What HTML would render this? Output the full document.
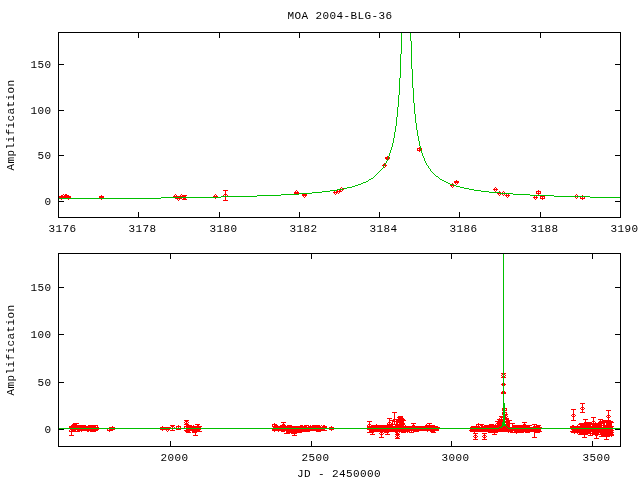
<!DOCTYPE html>
<html><head><meta charset="utf-8"><title>MOA 2004-BLG-36</title>
<style>html,body{margin:0;padding:0;background:#fff;overflow:hidden}svg{display:block}.t{font-family:"Liberation Mono",monospace;font-size:11px;letter-spacing:0.4px;fill:#000}</style></head>
<body>
<svg width="640" height="480" viewBox="0 0 640 480" shape-rendering="crispEdges">
<rect width="640" height="480" fill="#fff"/>
<path fill="#000000" d="M58 32h563v1h-563zM58 33h1v1h-1zM138 33h1v1h-1zM219 33h1v1h-1zM299 33h1v1h-1zM379 33h1v1h-1zM459 33h1v1h-1zM540 33h1v1h-1zM620 33h1v1h-1zM58 34h1v1h-1zM138 34h1v1h-1zM219 34h1v1h-1zM299 34h1v1h-1zM379 34h1v1h-1zM459 34h1v1h-1zM540 34h1v1h-1zM620 34h1v1h-1zM58 35h1v1h-1zM138 35h1v1h-1zM219 35h1v1h-1zM299 35h1v1h-1zM379 35h1v1h-1zM459 35h1v1h-1zM540 35h1v1h-1zM620 35h1v1h-1zM58 36h1v1h-1zM138 36h1v1h-1zM219 36h1v1h-1zM299 36h1v1h-1zM379 36h1v1h-1zM459 36h1v1h-1zM540 36h1v1h-1zM620 36h1v1h-1zM58 37h1v1h-1zM138 37h1v1h-1zM219 37h1v1h-1zM299 37h1v1h-1zM379 37h1v1h-1zM459 37h1v1h-1zM540 37h1v1h-1zM620 37h1v1h-1zM58 38h1v1h-1zM620 38h1v1h-1zM58 39h1v1h-1zM620 39h1v1h-1zM58 40h1v1h-1zM620 40h1v1h-1zM58 41h1v1h-1zM620 41h1v1h-1zM58 42h1v1h-1zM620 42h1v1h-1zM58 43h1v1h-1zM620 43h1v1h-1zM58 44h1v1h-1zM620 44h1v1h-1zM58 45h1v1h-1zM620 45h1v1h-1zM58 46h1v1h-1zM620 46h1v1h-1zM58 47h1v1h-1zM620 47h1v1h-1zM58 48h1v1h-1zM620 48h1v1h-1zM58 49h1v1h-1zM620 49h1v1h-1zM58 50h1v1h-1zM620 50h1v1h-1zM58 51h1v1h-1zM620 51h1v1h-1zM58 52h1v1h-1zM620 52h1v1h-1zM58 53h1v1h-1zM620 53h1v1h-1zM58 54h1v1h-1zM620 54h1v1h-1zM58 55h1v1h-1zM620 55h1v1h-1zM58 56h1v1h-1zM620 56h1v1h-1zM58 57h1v1h-1zM620 57h1v1h-1zM58 58h1v1h-1zM620 58h1v1h-1zM58 59h1v1h-1zM620 59h1v1h-1zM58 60h1v1h-1zM620 60h1v1h-1zM58 61h1v1h-1zM620 61h1v1h-1zM58 62h1v1h-1zM620 62h1v1h-1zM58 63h1v1h-1zM620 63h1v1h-1zM58 64h6v1h-6zM615 64h6v1h-6zM58 65h1v1h-1zM620 65h1v1h-1zM58 66h1v1h-1zM620 66h1v1h-1zM58 67h1v1h-1zM620 67h1v1h-1zM58 68h1v1h-1zM620 68h1v1h-1zM58 69h1v1h-1zM620 69h1v1h-1zM58 70h1v1h-1zM620 70h1v1h-1zM58 71h1v1h-1zM620 71h1v1h-1zM58 72h1v1h-1zM620 72h1v1h-1zM58 73h1v1h-1zM620 73h1v1h-1zM58 74h1v1h-1zM620 74h1v1h-1zM58 75h1v1h-1zM620 75h1v1h-1zM58 76h1v1h-1zM620 76h1v1h-1zM58 77h1v1h-1zM620 77h1v1h-1zM58 78h1v1h-1zM620 78h1v1h-1zM58 79h1v1h-1zM620 79h1v1h-1zM58 80h1v1h-1zM620 80h1v1h-1zM58 81h1v1h-1zM620 81h1v1h-1zM58 82h1v1h-1zM620 82h1v1h-1zM58 83h1v1h-1zM620 83h1v1h-1zM58 84h1v1h-1zM620 84h1v1h-1zM58 85h1v1h-1zM620 85h1v1h-1zM58 86h1v1h-1zM620 86h1v1h-1zM58 87h1v1h-1zM620 87h1v1h-1zM58 88h1v1h-1zM620 88h1v1h-1zM58 89h1v1h-1zM620 89h1v1h-1zM58 90h1v1h-1zM620 90h1v1h-1zM58 91h1v1h-1zM620 91h1v1h-1zM58 92h1v1h-1zM620 92h1v1h-1zM58 93h1v1h-1zM620 93h1v1h-1zM58 94h1v1h-1zM620 94h1v1h-1zM58 95h1v1h-1zM620 95h1v1h-1zM58 96h1v1h-1zM620 96h1v1h-1zM58 97h1v1h-1zM620 97h1v1h-1zM58 98h1v1h-1zM620 98h1v1h-1zM58 99h1v1h-1zM620 99h1v1h-1zM58 100h1v1h-1zM620 100h1v1h-1zM58 101h1v1h-1zM620 101h1v1h-1zM58 102h1v1h-1zM620 102h1v1h-1zM58 103h1v1h-1zM620 103h1v1h-1zM58 104h1v1h-1zM620 104h1v1h-1zM58 105h1v1h-1zM620 105h1v1h-1zM58 106h1v1h-1zM620 106h1v1h-1zM58 107h1v1h-1zM620 107h1v1h-1zM58 108h1v1h-1zM620 108h1v1h-1zM58 109h1v1h-1zM620 109h1v1h-1zM58 110h6v1h-6zM615 110h6v1h-6zM58 111h1v1h-1zM620 111h1v1h-1zM58 112h1v1h-1zM620 112h1v1h-1zM58 113h1v1h-1zM620 113h1v1h-1zM58 114h1v1h-1zM620 114h1v1h-1zM58 115h1v1h-1zM620 115h1v1h-1zM58 116h1v1h-1zM620 116h1v1h-1zM58 117h1v1h-1zM620 117h1v1h-1zM58 118h1v1h-1zM620 118h1v1h-1zM58 119h1v1h-1zM620 119h1v1h-1zM58 120h1v1h-1zM620 120h1v1h-1zM58 121h1v1h-1zM620 121h1v1h-1zM58 122h1v1h-1zM620 122h1v1h-1zM58 123h1v1h-1zM620 123h1v1h-1zM58 124h1v1h-1zM620 124h1v1h-1zM58 125h1v1h-1zM620 125h1v1h-1zM58 126h1v1h-1zM620 126h1v1h-1zM58 127h1v1h-1zM620 127h1v1h-1zM58 128h1v1h-1zM620 128h1v1h-1zM58 129h1v1h-1zM620 129h1v1h-1zM58 130h1v1h-1zM620 130h1v1h-1zM58 131h1v1h-1zM620 131h1v1h-1zM58 132h1v1h-1zM620 132h1v1h-1zM58 133h1v1h-1zM620 133h1v1h-1zM58 134h1v1h-1zM620 134h1v1h-1zM58 135h1v1h-1zM620 135h1v1h-1zM58 136h1v1h-1zM620 136h1v1h-1zM58 137h1v1h-1zM620 137h1v1h-1zM58 138h1v1h-1zM620 138h1v1h-1zM58 139h1v1h-1zM620 139h1v1h-1zM58 140h1v1h-1zM620 140h1v1h-1zM58 141h1v1h-1zM620 141h1v1h-1zM58 142h1v1h-1zM620 142h1v1h-1zM58 143h1v1h-1zM620 143h1v1h-1zM58 144h1v1h-1zM620 144h1v1h-1zM58 145h1v1h-1zM620 145h1v1h-1zM58 146h1v1h-1zM620 146h1v1h-1zM58 147h1v1h-1zM620 147h1v1h-1zM58 148h1v1h-1zM620 148h1v1h-1zM58 149h1v1h-1zM620 149h1v1h-1zM58 150h1v1h-1zM620 150h1v1h-1zM58 151h1v1h-1zM620 151h1v1h-1zM58 152h1v1h-1zM620 152h1v1h-1zM58 153h1v1h-1zM620 153h1v1h-1zM58 154h1v1h-1zM620 154h1v1h-1zM58 155h6v1h-6zM615 155h6v1h-6zM58 156h1v1h-1zM620 156h1v1h-1zM58 157h1v1h-1zM620 157h1v1h-1zM58 158h1v1h-1zM620 158h1v1h-1zM58 159h1v1h-1zM620 159h1v1h-1zM58 160h1v1h-1zM620 160h1v1h-1zM58 161h1v1h-1zM620 161h1v1h-1zM58 162h1v1h-1zM620 162h1v1h-1zM58 163h1v1h-1zM620 163h1v1h-1zM58 164h1v1h-1zM620 164h1v1h-1zM58 165h1v1h-1zM620 165h1v1h-1zM58 166h1v1h-1zM620 166h1v1h-1zM58 167h1v1h-1zM620 167h1v1h-1zM58 168h1v1h-1zM620 168h1v1h-1zM58 169h1v1h-1zM620 169h1v1h-1zM58 170h1v1h-1zM620 170h1v1h-1zM58 171h1v1h-1zM620 171h1v1h-1zM58 172h1v1h-1zM620 172h1v1h-1zM58 173h1v1h-1zM620 173h1v1h-1zM58 174h1v1h-1zM620 174h1v1h-1zM58 175h1v1h-1zM620 175h1v1h-1zM58 176h1v1h-1zM620 176h1v1h-1zM58 177h1v1h-1zM620 177h1v1h-1zM58 178h1v1h-1zM620 178h1v1h-1zM58 179h1v1h-1zM620 179h1v1h-1zM58 180h1v1h-1zM620 180h1v1h-1zM58 181h1v1h-1zM620 181h1v1h-1zM58 182h1v1h-1zM620 182h1v1h-1zM58 183h1v1h-1zM620 183h1v1h-1zM58 184h1v1h-1zM620 184h1v1h-1zM58 185h1v1h-1zM620 185h1v1h-1zM58 186h1v1h-1zM620 186h1v1h-1zM58 187h1v1h-1zM620 187h1v1h-1zM58 188h1v1h-1zM620 188h1v1h-1zM58 189h1v1h-1zM620 189h1v1h-1zM58 190h1v1h-1zM620 190h1v1h-1zM58 191h1v1h-1zM620 191h1v1h-1zM58 192h1v1h-1zM620 192h1v1h-1zM58 193h1v1h-1zM620 193h1v1h-1zM58 194h1v1h-1zM620 194h1v1h-1zM58 195h1v1h-1zM620 195h1v1h-1zM58 196h1v1h-1zM620 196h1v1h-1zM58 197h1v1h-1zM620 197h1v1h-1zM58 198h1v1h-1zM620 198h1v1h-1zM58 199h1v1h-1zM620 199h1v1h-1zM58 200h1v1h-1zM620 200h1v1h-1zM58 201h6v1h-6zM615 201h6v1h-6zM58 202h1v1h-1zM620 202h1v1h-1zM58 203h1v1h-1zM620 203h1v1h-1zM58 204h1v1h-1zM620 204h1v1h-1zM58 205h1v1h-1zM620 205h1v1h-1zM58 206h1v1h-1zM620 206h1v1h-1zM58 207h1v1h-1zM620 207h1v1h-1zM58 208h1v1h-1zM620 208h1v1h-1zM58 209h1v1h-1zM620 209h1v1h-1zM58 210h1v1h-1zM620 210h1v1h-1zM58 211h1v1h-1zM620 211h1v1h-1zM58 212h1v1h-1zM138 212h1v1h-1zM219 212h1v1h-1zM299 212h1v1h-1zM379 212h1v1h-1zM459 212h1v1h-1zM540 212h1v1h-1zM620 212h1v1h-1zM58 213h1v1h-1zM138 213h1v1h-1zM219 213h1v1h-1zM299 213h1v1h-1zM379 213h1v1h-1zM459 213h1v1h-1zM540 213h1v1h-1zM620 213h1v1h-1zM58 214h1v1h-1zM138 214h1v1h-1zM219 214h1v1h-1zM299 214h1v1h-1zM379 214h1v1h-1zM459 214h1v1h-1zM540 214h1v1h-1zM620 214h1v1h-1zM58 215h1v1h-1zM138 215h1v1h-1zM219 215h1v1h-1zM299 215h1v1h-1zM379 215h1v1h-1zM459 215h1v1h-1zM540 215h1v1h-1zM620 215h1v1h-1zM58 216h1v1h-1zM138 216h1v1h-1zM219 216h1v1h-1zM299 216h1v1h-1zM379 216h1v1h-1zM459 216h1v1h-1zM540 216h1v1h-1zM620 216h1v1h-1zM58 217h563v1h-563zM58 253h563v1h-563zM58 254h1v1h-1zM170 254h1v1h-1zM311 254h1v1h-1zM451 254h1v1h-1zM592 254h1v1h-1zM620 254h1v1h-1zM58 255h1v1h-1zM170 255h1v1h-1zM311 255h1v1h-1zM451 255h1v1h-1zM592 255h1v1h-1zM620 255h1v1h-1zM58 256h1v1h-1zM170 256h1v1h-1zM311 256h1v1h-1zM451 256h1v1h-1zM592 256h1v1h-1zM620 256h1v1h-1zM58 257h1v1h-1zM170 257h1v1h-1zM311 257h1v1h-1zM451 257h1v1h-1zM592 257h1v1h-1zM620 257h1v1h-1zM58 258h1v1h-1zM170 258h1v1h-1zM311 258h1v1h-1zM451 258h1v1h-1zM592 258h1v1h-1zM620 258h1v1h-1zM58 259h1v1h-1zM620 259h1v1h-1zM58 260h1v1h-1zM620 260h1v1h-1zM58 261h1v1h-1zM620 261h1v1h-1zM58 262h1v1h-1zM620 262h1v1h-1zM58 263h1v1h-1zM620 263h1v1h-1zM58 264h1v1h-1zM620 264h1v1h-1zM58 265h1v1h-1zM620 265h1v1h-1zM58 266h1v1h-1zM620 266h1v1h-1zM58 267h1v1h-1zM620 267h1v1h-1zM58 268h1v1h-1zM620 268h1v1h-1zM58 269h1v1h-1zM620 269h1v1h-1zM58 270h1v1h-1zM620 270h1v1h-1zM58 271h1v1h-1zM620 271h1v1h-1zM58 272h1v1h-1zM620 272h1v1h-1zM58 273h1v1h-1zM620 273h1v1h-1zM58 274h1v1h-1zM620 274h1v1h-1zM58 275h1v1h-1zM620 275h1v1h-1zM58 276h1v1h-1zM620 276h1v1h-1zM58 277h1v1h-1zM620 277h1v1h-1zM58 278h1v1h-1zM620 278h1v1h-1zM58 279h1v1h-1zM620 279h1v1h-1zM58 280h1v1h-1zM620 280h1v1h-1zM58 281h1v1h-1zM620 281h1v1h-1zM58 282h1v1h-1zM620 282h1v1h-1zM58 283h1v1h-1zM620 283h1v1h-1zM58 284h1v1h-1zM620 284h1v1h-1zM58 285h1v1h-1zM620 285h1v1h-1zM58 286h1v1h-1zM620 286h1v1h-1zM58 287h6v1h-6zM615 287h6v1h-6zM58 288h1v1h-1zM620 288h1v1h-1zM58 289h1v1h-1zM620 289h1v1h-1zM58 290h1v1h-1zM620 290h1v1h-1zM58 291h1v1h-1zM620 291h1v1h-1zM58 292h1v1h-1zM620 292h1v1h-1zM58 293h1v1h-1zM620 293h1v1h-1zM58 294h1v1h-1zM620 294h1v1h-1zM58 295h1v1h-1zM620 295h1v1h-1zM58 296h1v1h-1zM620 296h1v1h-1zM58 297h1v1h-1zM620 297h1v1h-1zM58 298h1v1h-1zM620 298h1v1h-1zM58 299h1v1h-1zM620 299h1v1h-1zM58 300h1v1h-1zM620 300h1v1h-1zM58 301h1v1h-1zM620 301h1v1h-1zM58 302h1v1h-1zM620 302h1v1h-1zM58 303h1v1h-1zM620 303h1v1h-1zM58 304h1v1h-1zM620 304h1v1h-1zM58 305h1v1h-1zM620 305h1v1h-1zM58 306h1v1h-1zM620 306h1v1h-1zM58 307h1v1h-1zM620 307h1v1h-1zM58 308h1v1h-1zM620 308h1v1h-1zM58 309h1v1h-1zM620 309h1v1h-1zM58 310h1v1h-1zM620 310h1v1h-1zM58 311h1v1h-1zM620 311h1v1h-1zM58 312h1v1h-1zM620 312h1v1h-1zM58 313h1v1h-1zM620 313h1v1h-1zM58 314h1v1h-1zM620 314h1v1h-1zM58 315h1v1h-1zM620 315h1v1h-1zM58 316h1v1h-1zM620 316h1v1h-1zM58 317h1v1h-1zM620 317h1v1h-1zM58 318h1v1h-1zM620 318h1v1h-1zM58 319h1v1h-1zM620 319h1v1h-1zM58 320h1v1h-1zM620 320h1v1h-1zM58 321h1v1h-1zM620 321h1v1h-1zM58 322h1v1h-1zM620 322h1v1h-1zM58 323h1v1h-1zM620 323h1v1h-1zM58 324h1v1h-1zM620 324h1v1h-1zM58 325h1v1h-1zM620 325h1v1h-1zM58 326h1v1h-1zM620 326h1v1h-1zM58 327h1v1h-1zM620 327h1v1h-1zM58 328h1v1h-1zM620 328h1v1h-1zM58 329h1v1h-1zM620 329h1v1h-1zM58 330h1v1h-1zM620 330h1v1h-1zM58 331h1v1h-1zM620 331h1v1h-1zM58 332h1v1h-1zM620 332h1v1h-1zM58 333h1v1h-1zM620 333h1v1h-1zM58 334h6v1h-6zM615 334h6v1h-6zM58 335h1v1h-1zM620 335h1v1h-1zM58 336h1v1h-1zM620 336h1v1h-1zM58 337h1v1h-1zM620 337h1v1h-1zM58 338h1v1h-1zM620 338h1v1h-1zM58 339h1v1h-1zM620 339h1v1h-1zM58 340h1v1h-1zM620 340h1v1h-1zM58 341h1v1h-1zM620 341h1v1h-1zM58 342h1v1h-1zM620 342h1v1h-1zM58 343h1v1h-1zM620 343h1v1h-1zM58 344h1v1h-1zM620 344h1v1h-1zM58 345h1v1h-1zM620 345h1v1h-1zM58 346h1v1h-1zM620 346h1v1h-1zM58 347h1v1h-1zM620 347h1v1h-1zM58 348h1v1h-1zM620 348h1v1h-1zM58 349h1v1h-1zM620 349h1v1h-1zM58 350h1v1h-1zM620 350h1v1h-1zM58 351h1v1h-1zM620 351h1v1h-1zM58 352h1v1h-1zM620 352h1v1h-1zM58 353h1v1h-1zM620 353h1v1h-1zM58 354h1v1h-1zM620 354h1v1h-1zM58 355h1v1h-1zM620 355h1v1h-1zM58 356h1v1h-1zM620 356h1v1h-1zM58 357h1v1h-1zM620 357h1v1h-1zM58 358h1v1h-1zM620 358h1v1h-1zM58 359h1v1h-1zM620 359h1v1h-1zM58 360h1v1h-1zM620 360h1v1h-1zM58 361h1v1h-1zM620 361h1v1h-1zM58 362h1v1h-1zM620 362h1v1h-1zM58 363h1v1h-1zM620 363h1v1h-1zM58 364h1v1h-1zM620 364h1v1h-1zM58 365h1v1h-1zM620 365h1v1h-1zM58 366h1v1h-1zM620 366h1v1h-1zM58 367h1v1h-1zM620 367h1v1h-1zM58 368h1v1h-1zM620 368h1v1h-1zM58 369h1v1h-1zM620 369h1v1h-1zM58 370h1v1h-1zM620 370h1v1h-1zM58 371h1v1h-1zM620 371h1v1h-1zM58 372h1v1h-1zM620 372h1v1h-1zM58 373h1v1h-1zM620 373h1v1h-1zM58 374h1v1h-1zM620 374h1v1h-1zM58 375h1v1h-1zM620 375h1v1h-1zM58 376h1v1h-1zM620 376h1v1h-1zM58 377h1v1h-1zM620 377h1v1h-1zM58 378h1v1h-1zM620 378h1v1h-1zM58 379h1v1h-1zM620 379h1v1h-1zM58 380h1v1h-1zM620 380h1v1h-1zM58 381h1v1h-1zM620 381h1v1h-1zM58 382h6v1h-6zM615 382h6v1h-6zM58 383h1v1h-1zM620 383h1v1h-1zM58 384h1v1h-1zM620 384h1v1h-1zM58 385h1v1h-1zM620 385h1v1h-1zM58 386h1v1h-1zM620 386h1v1h-1zM58 387h1v1h-1zM620 387h1v1h-1zM58 388h1v1h-1zM620 388h1v1h-1zM58 389h1v1h-1zM620 389h1v1h-1zM58 390h1v1h-1zM620 390h1v1h-1zM58 391h1v1h-1zM620 391h1v1h-1zM58 392h1v1h-1zM620 392h1v1h-1zM58 393h1v1h-1zM620 393h1v1h-1zM58 394h1v1h-1zM620 394h1v1h-1zM58 395h1v1h-1zM620 395h1v1h-1zM58 396h1v1h-1zM620 396h1v1h-1zM58 397h1v1h-1zM620 397h1v1h-1zM58 398h1v1h-1zM620 398h1v1h-1zM58 399h1v1h-1zM620 399h1v1h-1zM58 400h1v1h-1zM620 400h1v1h-1zM58 401h1v1h-1zM620 401h1v1h-1zM58 402h1v1h-1zM620 402h1v1h-1zM58 403h1v1h-1zM620 403h1v1h-1zM58 404h1v1h-1zM620 404h1v1h-1zM58 405h1v1h-1zM620 405h1v1h-1zM58 406h1v1h-1zM620 406h1v1h-1zM58 407h1v1h-1zM620 407h1v1h-1zM58 408h1v1h-1zM620 408h1v1h-1zM58 409h1v1h-1zM620 409h1v1h-1zM58 410h1v1h-1zM620 410h1v1h-1zM58 411h1v1h-1zM620 411h1v1h-1zM58 412h1v1h-1zM620 412h1v1h-1zM58 413h1v1h-1zM620 413h1v1h-1zM58 414h1v1h-1zM620 414h1v1h-1zM58 415h1v1h-1zM620 415h1v1h-1zM58 416h1v1h-1zM620 416h1v1h-1zM58 417h1v1h-1zM620 417h1v1h-1zM58 418h1v1h-1zM620 418h1v1h-1zM58 419h1v1h-1zM620 419h1v1h-1zM58 420h1v1h-1zM620 420h1v1h-1zM58 421h1v1h-1zM620 421h1v1h-1zM58 422h1v1h-1zM620 422h1v1h-1zM58 423h1v1h-1zM620 423h1v1h-1zM58 424h1v1h-1zM620 424h1v1h-1zM58 425h1v1h-1zM620 425h1v1h-1zM58 426h1v1h-1zM620 426h1v1h-1zM58 427h1v1h-1zM620 427h1v1h-1zM58 428h1v1h-1zM620 428h1v1h-1zM58 429h6v1h-6zM615 429h6v1h-6zM58 430h1v1h-1zM620 430h1v1h-1zM58 431h1v1h-1zM620 431h1v1h-1zM58 432h1v1h-1zM620 432h1v1h-1zM58 433h1v1h-1zM620 433h1v1h-1zM58 434h1v1h-1zM620 434h1v1h-1zM58 435h1v1h-1zM620 435h1v1h-1zM58 436h1v1h-1zM620 436h1v1h-1zM58 437h1v1h-1zM620 437h1v1h-1zM58 438h1v1h-1zM620 438h1v1h-1zM58 439h1v1h-1zM620 439h1v1h-1zM58 440h1v1h-1zM620 440h1v1h-1zM58 441h1v1h-1zM170 441h1v1h-1zM311 441h1v1h-1zM451 441h1v1h-1zM592 441h1v1h-1zM620 441h1v1h-1zM58 442h1v1h-1zM170 442h1v1h-1zM311 442h1v1h-1zM451 442h1v1h-1zM592 442h1v1h-1zM620 442h1v1h-1zM58 443h1v1h-1zM170 443h1v1h-1zM311 443h1v1h-1zM451 443h1v1h-1zM592 443h1v1h-1zM620 443h1v1h-1zM58 444h1v1h-1zM170 444h1v1h-1zM311 444h1v1h-1zM451 444h1v1h-1zM592 444h1v1h-1zM620 444h1v1h-1zM58 445h1v1h-1zM170 445h1v1h-1zM311 445h1v1h-1zM451 445h1v1h-1zM592 445h1v1h-1zM620 445h1v1h-1zM58 446h563v1h-563z"/>
<path fill="#ff0000" d="M419 147h1v1h-1zM417 148h3v1h-3zM421 148h1v1h-1zM417 149h1v1h-1zM419 149h1v1h-1zM421 149h1v1h-1zM417 150h4v1h-4zM419 151h1v1h-1zM387 156h1v1h-1zM385 157h3v1h-3zM389 157h1v1h-1zM385 158h3v1h-3zM389 158h1v1h-1zM386 159h1v1h-1zM388 159h1v1h-1zM384 163h1v1h-1zM383 164h1v1h-1zM385 164h1v1h-1zM382 165h2v1h-2zM385 165h2v1h-2zM385 166h1v1h-1zM384 167h1v1h-1zM456 180h1v1h-1zM454 181h5v1h-5zM454 182h5v1h-5zM452 183h1v1h-1zM455 183h1v1h-1zM457 183h1v1h-1zM453 184h1v1h-1zM456 184h1v1h-1zM450 185h3v1h-3zM451 186h1v1h-1zM453 186h1v1h-1zM341 187h1v1h-1zM452 187h1v1h-1zM495 187h1v1h-1zM340 188h1v1h-1zM342 188h1v1h-1zM494 188h1v1h-1zM496 188h1v1h-1zM343 189h1v1h-1zM493 189h5v1h-5zM223 190h5v1h-5zM296 190h1v1h-1zM337 190h1v1h-1zM339 190h2v1h-2zM342 190h1v1h-1zM494 190h1v1h-1zM496 190h1v1h-1zM538 190h1v1h-1zM225 191h1v1h-1zM295 191h1v1h-1zM297 191h1v1h-1zM334 191h1v1h-1zM336 191h6v1h-6zM495 191h1v1h-1zM499 191h1v1h-1zM503 191h1v1h-1zM536 191h5v1h-5zM225 192h1v1h-1zM294 192h5v1h-5zM333 192h5v1h-5zM339 192h1v1h-1zM500 192h1v1h-1zM502 192h1v1h-1zM504 192h1v1h-1zM536 192h1v1h-1zM538 192h1v1h-1zM540 192h1v1h-1zM225 193h1v1h-1zM294 193h5v1h-5zM334 193h1v1h-1zM336 193h1v1h-1zM338 193h1v1h-1zM497 193h3v1h-3zM536 193h5v1h-5zM63 194h1v1h-1zM65 194h2v1h-2zM175 194h1v1h-1zM181 194h1v1h-1zM215 194h1v1h-1zM224 194h3v1h-3zM302 194h5v1h-5zM335 194h1v1h-1zM498 194h1v1h-1zM500 194h1v1h-1zM502 194h1v1h-1zM504 194h1v1h-1zM506 194h1v1h-1zM508 194h1v1h-1zM538 194h1v1h-1zM576 194h1v1h-1zM61 195h2v1h-2zM64 195h5v1h-5zM101 195h1v1h-1zM174 195h1v1h-1zM176 195h1v1h-1zM180 195h1v1h-1zM182 195h5v1h-5zM214 195h1v1h-1zM216 195h1v1h-1zM223 195h1v1h-1zM225 195h1v1h-1zM227 195h1v1h-1zM302 195h5v1h-5zM499 195h1v1h-1zM503 195h1v1h-1zM505 195h5v1h-5zM575 195h1v1h-1zM577 195h1v1h-1zM582 195h1v1h-1zM59 196h12v1h-12zM99 196h5v1h-5zM173 196h13v1h-13zM213 196h5v1h-5zM303 196h1v1h-1zM305 196h1v1h-1zM506 196h1v1h-1zM508 196h1v1h-1zM534 196h1v1h-1zM536 196h1v1h-1zM540 196h5v1h-5zM59 197h12v1h-12zM99 197h5v1h-5zM225 197h1v1h-1zM304 197h1v1h-1zM507 197h1v1h-1zM533 197h5v1h-5zM540 197h1v1h-1zM542 197h1v1h-1zM544 197h1v1h-1zM575 197h1v1h-1zM577 197h1v1h-1zM580 197h1v1h-1zM582 197h1v1h-1zM584 197h1v1h-1zM175 198h7v1h-7zM183 198h3v1h-3zM215 198h1v1h-1zM225 198h1v1h-1zM534 198h1v1h-1zM536 198h1v1h-1zM540 198h5v1h-5zM576 198h1v1h-1zM580 198h5v1h-5zM61 199h1v1h-1zM68 199h1v1h-1zM101 199h1v1h-1zM177 199h1v1h-1zM179 199h1v1h-1zM182 199h5v1h-5zM225 199h1v1h-1zM535 199h1v1h-1zM542 199h1v1h-1zM582 199h1v1h-1zM178 200h1v1h-1zM223 200h5v1h-5zM501 373h2v1h-2zM504 373h2v1h-2zM502 374h1v1h-1zM504 374h1v1h-1zM501 375h1v1h-1zM505 375h1v1h-1zM502 376h1v1h-1zM504 376h1v1h-1zM501 377h2v1h-2zM504 377h2v1h-2zM502 383h1v1h-1zM504 383h1v1h-1zM501 384h2v1h-2zM504 384h2v1h-2zM502 385h1v1h-1zM504 385h1v1h-1zM502 391h1v1h-1zM504 391h1v1h-1zM501 392h2v1h-2zM504 392h2v1h-2zM501 393h2v1h-2zM504 393h2v1h-2zM580 403h5v1h-5zM582 404h1v1h-1zM582 405h1v1h-1zM582 406h1v1h-1zM581 407h3v1h-3zM502 408h1v1h-1zM505 408h2v1h-2zM580 408h1v1h-1zM582 408h1v1h-1zM584 408h1v1h-1zM502 409h1v1h-1zM506 409h1v1h-1zM571 409h5v1h-5zM581 409h3v1h-3zM502 410h1v1h-1zM505 410h2v1h-2zM573 410h1v1h-1zM582 410h1v1h-1zM606 410h5v1h-5zM573 411h1v1h-1zM582 411h1v1h-1zM608 411h1v1h-1zM392 412h5v1h-5zM502 412h1v1h-1zM505 412h2v1h-2zM573 412h1v1h-1zM580 412h5v1h-5zM608 412h1v1h-1zM394 413h1v1h-1zM502 413h1v1h-1zM506 413h1v1h-1zM573 413h1v1h-1zM608 413h1v1h-1zM394 414h1v1h-1zM502 414h1v1h-1zM505 414h3v1h-3zM572 414h3v1h-3zM608 414h1v1h-1zM394 415h1v1h-1zM505 415h2v1h-2zM571 415h1v1h-1zM573 415h1v1h-1zM575 415h1v1h-1zM607 415h3v1h-3zM394 416h1v1h-1zM398 416h5v1h-5zM499 416h4v1h-4zM505 416h1v1h-1zM507 416h1v1h-1zM572 416h3v1h-3zM606 416h1v1h-1zM608 416h1v1h-1zM610 416h1v1h-1zM394 417h1v1h-1zM397 417h6v1h-6zM500 417h3v1h-3zM505 417h2v1h-2zM573 417h1v1h-1zM591 417h5v1h-5zM607 417h3v1h-3zM387 418h5v1h-5zM394 418h1v1h-1zM398 418h6v1h-6zM499 418h1v1h-1zM501 418h1v1h-1zM505 418h4v1h-4zM573 418h1v1h-1zM593 418h1v1h-1zM608 418h1v1h-1zM389 419h1v1h-1zM393 419h12v1h-12zM497 419h6v1h-6zM505 419h4v1h-4zM573 419h1v1h-1zM583 419h5v1h-5zM593 419h1v1h-1zM598 419h5v1h-5zM608 419h1v1h-1zM184 420h5v1h-5zM389 420h6v1h-6zM396 420h10v1h-10zM498 420h5v1h-5zM506 420h6v1h-6zM571 420h5v1h-5zM585 420h1v1h-1zM593 420h1v1h-1zM600 420h1v1h-1zM602 420h9v1h-9zM185 421h3v1h-3zM367 421h5v1h-5zM389 421h1v1h-1zM392 421h12v1h-12zM495 421h8v1h-8zM505 421h5v1h-5zM585 421h1v1h-1zM592 421h3v1h-3zM599 421h14v1h-14zM184 422h1v1h-1zM186 422h1v1h-1zM188 422h1v1h-1zM281 422h5v1h-5zM369 422h1v1h-1zM388 422h3v1h-3zM392 422h1v1h-1zM394 422h1v1h-1zM396 422h8v1h-8zM497 422h5v1h-5zM505 422h5v1h-5zM522 422h5v1h-5zM584 422h8v1h-8zM593 422h1v1h-1zM595 422h1v1h-1zM598 422h16v1h-16zM73 423h6v1h-6zM185 423h3v1h-3zM274 423h1v1h-1zM283 423h1v1h-1zM369 423h1v1h-1zM387 423h1v1h-1zM389 423h1v1h-1zM391 423h2v1h-2zM394 423h1v1h-1zM396 423h2v1h-2zM399 423h6v1h-6zM411 423h5v1h-5zM427 423h5v1h-5zM478 423h1v1h-1zM496 423h6v1h-6zM506 423h9v1h-9zM524 423h1v1h-1zM579 423h26v1h-26zM606 423h6v1h-6zM72 424h5v1h-5zM184 424h5v1h-5zM195 424h5v1h-5zM272 424h5v1h-5zM282 424h3v1h-3zM368 424h3v1h-3zM376 424h1v1h-1zM387 424h18v1h-18zM413 424h1v1h-1zM426 424h1v1h-1zM429 424h1v1h-1zM476 424h8v1h-8zM489 424h5v1h-5zM495 424h1v1h-1zM497 424h5v1h-5zM506 424h4v1h-4zM512 424h1v1h-1zM523 424h3v1h-3zM532 424h5v1h-5zM578 424h24v1h-24zM603 424h2v1h-2zM606 424h6v1h-6zM71 425h15v1h-15zM88 425h10v1h-10zM170 425h5v1h-5zM178 425h1v1h-1zM186 425h6v1h-6zM193 425h1v1h-1zM197 425h2v1h-2zM272 425h1v1h-1zM274 425h4v1h-4zM280 425h6v1h-6zM287 425h5v1h-5zM300 425h3v1h-3zM304 425h5v1h-5zM310 425h1v1h-1zM312 425h8v1h-8zM321 425h1v1h-1zM323 425h2v1h-2zM367 425h1v1h-1zM369 425h1v1h-1zM371 425h22v1h-22zM395 425h9v1h-9zM405 425h1v1h-1zM412 425h3v1h-3zM425 425h10v1h-10zM476 425h1v1h-1zM478 425h1v1h-1zM480 425h3v1h-3zM484 425h18v1h-18zM506 425h4v1h-4zM512 425h20v1h-20zM534 425h1v1h-1zM536 425h5v1h-5zM572 425h2v1h-2zM577 425h1v1h-1zM580 425h11v1h-11zM592 425h20v1h-20zM69 426h27v1h-27zM97 426h1v1h-1zM112 426h1v1h-1zM162 426h1v1h-1zM171 426h3v1h-3zM176 426h5v1h-5zM184 426h18v1h-18zM272 426h35v1h-35zM308 426h13v1h-13zM322 426h5v1h-5zM331 426h1v1h-1zM367 426h71v1h-71zM471 426h9v1h-9zM481 426h20v1h-20zM503 426h3v1h-3zM507 426h3v1h-3zM512 426h18v1h-18zM533 426h7v1h-7zM570 426h32v1h-32zM603 426h11v1h-11zM69 427h30v1h-30zM109 427h6v1h-6zM160 427h11v1h-11zM172 427h1v1h-1zM174 427h1v1h-1zM176 427h1v1h-1zM178 427h1v1h-1zM180 427h1v1h-1zM184 427h1v1h-1zM186 427h15v1h-15zM273 427h54v1h-54zM329 427h5v1h-5zM367 427h73v1h-73zM470 427h29v1h-29zM502 427h5v1h-5zM508 427h34v1h-34zM570 427h43v1h-43zM499 428h9v1h-9zM70 429h29v1h-29zM107 429h1v1h-1zM109 429h6v1h-6zM160 429h10v1h-10zM172 429h1v1h-1zM176 429h5v1h-5zM186 429h15v1h-15zM272 429h53v1h-53zM329 429h5v1h-5zM367 429h72v1h-72zM470 429h71v1h-71zM571 429h42v1h-42zM69 430h1v1h-1zM71 430h5v1h-5zM77 430h21v1h-21zM107 430h6v1h-6zM162 430h1v1h-1zM166 430h1v1h-1zM168 430h1v1h-1zM170 430h5v1h-5zM184 430h16v1h-16zM272 430h55v1h-55zM331 430h1v1h-1zM369 430h70v1h-70zM469 430h72v1h-72zM572 430h42v1h-42zM69 431h11v1h-11zM81 431h1v1h-1zM87 431h2v1h-2zM90 431h6v1h-6zM109 431h1v1h-1zM167 431h1v1h-1zM185 431h5v1h-5zM192 431h10v1h-10zM274 431h1v1h-1zM278 431h1v1h-1zM281 431h4v1h-4zM286 431h24v1h-24zM316 431h5v1h-5zM369 431h41v1h-41zM411 431h1v1h-1zM413 431h6v1h-6zM427 431h1v1h-1zM430 431h5v1h-5zM470 431h43v1h-43zM514 431h28v1h-28zM570 431h43v1h-43zM71 432h1v1h-1zM186 432h5v1h-5zM192 432h5v1h-5zM286 432h16v1h-16zM367 432h7v1h-7zM380 432h3v1h-3zM384 432h5v1h-5zM395 432h3v1h-3zM399 432h1v1h-1zM401 432h5v1h-5zM407 432h1v1h-1zM409 432h5v1h-5zM431 432h5v1h-5zM474 432h1v1h-1zM488 432h10v1h-10zM508 432h1v1h-1zM510 432h14v1h-14zM525 432h5v1h-5zM534 432h6v1h-6zM571 432h20v1h-20zM592 432h22v1h-22zM71 433h1v1h-1zM195 433h1v1h-1zM284 433h6v1h-6zM291 433h6v1h-6zM372 433h1v1h-1zM379 433h1v1h-1zM381 433h1v1h-1zM383 433h1v1h-1zM387 433h1v1h-1zM396 433h3v1h-3zM473 433h5v1h-5zM482 433h5v1h-5zM494 433h1v1h-1zM516 433h1v1h-1zM534 433h1v1h-1zM574 433h1v1h-1zM577 433h1v1h-1zM579 433h20v1h-20zM600 433h13v1h-13zM71 434h1v1h-1zM195 434h1v1h-1zM294 434h1v1h-1zM370 434h5v1h-5zM380 434h3v1h-3zM385 434h5v1h-5zM395 434h5v1h-5zM475 434h1v1h-1zM484 434h1v1h-1zM492 434h5v1h-5zM534 434h1v1h-1zM578 434h10v1h-10zM590 434h1v1h-1zM592 434h22v1h-22zM69 435h5v1h-5zM193 435h5v1h-5zM292 435h5v1h-5zM381 435h1v1h-1zM396 435h3v1h-3zM474 435h3v1h-3zM483 435h3v1h-3zM534 435h1v1h-1zM584 435h1v1h-1zM588 435h5v1h-5zM595 435h3v1h-3zM601 435h13v1h-13zM381 436h1v1h-1zM395 436h1v1h-1zM397 436h1v1h-1zM399 436h1v1h-1zM473 436h1v1h-1zM475 436h1v1h-1zM477 436h1v1h-1zM482 436h1v1h-1zM484 436h1v1h-1zM486 436h1v1h-1zM534 436h1v1h-1zM584 436h1v1h-1zM596 436h1v1h-1zM599 436h11v1h-11zM611 436h1v1h-1zM379 437h5v1h-5zM396 437h3v1h-3zM474 437h3v1h-3zM483 437h3v1h-3zM532 437h5v1h-5zM582 437h5v1h-5zM596 437h1v1h-1zM606 437h1v1h-1zM395 438h5v1h-5zM475 438h1v1h-1zM484 438h1v1h-1zM594 438h5v1h-5zM606 438h1v1h-1zM473 439h5v1h-5zM482 439h5v1h-5zM604 439h5v1h-5z"/>
<path fill="#00c000" d="M401 33h1v1h-1zM410 33h1v1h-1zM401 34h1v1h-1zM410 34h1v1h-1zM401 35h1v1h-1zM410 35h1v1h-1zM401 36h1v1h-1zM410 36h1v1h-1zM401 37h1v1h-1zM410 37h1v1h-1zM401 38h1v1h-1zM410 38h1v1h-1zM401 39h1v1h-1zM410 39h1v1h-1zM401 40h1v1h-1zM410 40h1v1h-1zM401 41h1v1h-1zM411 41h1v1h-1zM401 42h1v1h-1zM411 42h1v1h-1zM401 43h1v1h-1zM411 43h1v1h-1zM401 44h1v1h-1zM411 44h1v1h-1zM401 45h1v1h-1zM411 45h1v1h-1zM401 46h1v1h-1zM411 46h1v1h-1zM401 47h1v1h-1zM411 47h1v1h-1zM401 48h1v1h-1zM411 48h1v1h-1zM401 49h1v1h-1zM411 49h1v1h-1zM401 50h1v1h-1zM411 50h1v1h-1zM401 51h1v1h-1zM411 51h1v1h-1zM401 52h1v1h-1zM411 52h1v1h-1zM401 53h1v1h-1zM411 53h1v1h-1zM400 54h1v1h-1zM411 54h1v1h-1zM400 55h1v1h-1zM411 55h1v1h-1zM400 56h1v1h-1zM411 56h1v1h-1zM400 57h1v1h-1zM411 57h1v1h-1zM400 58h1v1h-1zM411 58h1v1h-1zM400 59h1v1h-1zM411 59h1v1h-1zM400 60h1v1h-1zM411 60h1v1h-1zM400 61h1v1h-1zM411 61h1v1h-1zM400 62h1v1h-1zM411 62h1v1h-1zM400 63h1v1h-1zM411 63h1v1h-1zM400 64h1v1h-1zM411 64h1v1h-1zM400 65h1v1h-1zM411 65h1v1h-1zM400 66h1v1h-1zM411 66h1v1h-1zM400 67h1v1h-1zM411 67h1v1h-1zM400 68h1v1h-1zM411 68h1v1h-1zM400 69h1v1h-1zM412 69h1v1h-1zM400 70h1v1h-1zM412 70h1v1h-1zM400 71h1v1h-1zM412 71h1v1h-1zM400 72h1v1h-1zM412 72h1v1h-1zM400 73h1v1h-1zM412 73h1v1h-1zM400 74h1v1h-1zM412 74h1v1h-1zM400 75h1v1h-1zM412 75h1v1h-1zM400 76h1v1h-1zM412 76h1v1h-1zM400 77h1v1h-1zM412 77h1v1h-1zM399 78h1v1h-1zM412 78h1v1h-1zM399 79h1v1h-1zM412 79h1v1h-1zM399 80h1v1h-1zM412 80h1v1h-1zM399 81h1v1h-1zM412 81h1v1h-1zM399 82h1v1h-1zM412 82h1v1h-1zM399 83h1v1h-1zM412 83h1v1h-1zM399 84h1v1h-1zM412 84h1v1h-1zM399 85h1v1h-1zM412 85h1v1h-1zM399 86h1v1h-1zM412 86h1v1h-1zM399 87h1v1h-1zM412 87h1v1h-1zM399 88h1v1h-1zM413 88h1v1h-1zM399 89h1v1h-1zM413 89h1v1h-1zM399 90h1v1h-1zM413 90h1v1h-1zM399 91h1v1h-1zM413 91h1v1h-1zM399 92h1v1h-1zM413 92h1v1h-1zM399 93h1v1h-1zM413 93h1v1h-1zM399 94h1v1h-1zM413 94h1v1h-1zM398 95h1v1h-1zM413 95h1v1h-1zM398 96h1v1h-1zM413 96h1v1h-1zM398 97h1v1h-1zM413 97h1v1h-1zM398 98h1v1h-1zM413 98h1v1h-1zM398 99h1v1h-1zM413 99h1v1h-1zM398 100h1v1h-1zM413 100h1v1h-1zM398 101h1v1h-1zM413 101h1v1h-1zM398 102h1v1h-1zM413 102h1v1h-1zM398 103h1v1h-1zM414 103h1v1h-1zM398 104h1v1h-1zM414 104h1v1h-1zM398 105h1v1h-1zM414 105h1v1h-1zM398 106h1v1h-1zM414 106h1v1h-1zM397 107h1v1h-1zM414 107h1v1h-1zM397 108h1v1h-1zM414 108h1v1h-1zM397 109h1v1h-1zM414 109h1v1h-1zM397 110h1v1h-1zM414 110h1v1h-1zM397 111h1v1h-1zM414 111h1v1h-1zM397 112h1v1h-1zM414 112h1v1h-1zM397 113h1v1h-1zM414 113h1v1h-1zM397 114h1v1h-1zM415 114h1v1h-1zM397 115h1v1h-1zM415 115h1v1h-1zM397 116h1v1h-1zM415 116h1v1h-1zM396 117h1v1h-1zM415 117h1v1h-1zM396 118h1v1h-1zM415 118h1v1h-1zM396 119h1v1h-1zM415 119h1v1h-1zM396 120h1v1h-1zM415 120h1v1h-1zM396 121h1v1h-1zM415 121h1v1h-1zM396 122h1v1h-1zM415 122h1v1h-1zM396 123h1v1h-1zM416 123h1v1h-1zM396 124h1v1h-1zM416 124h1v1h-1zM396 125h1v1h-1zM416 125h1v1h-1zM395 126h1v1h-1zM416 126h1v1h-1zM395 127h1v1h-1zM416 127h1v1h-1zM395 128h1v1h-1zM416 128h1v1h-1zM395 129h1v1h-1zM416 129h1v1h-1zM395 130h1v1h-1zM417 130h1v1h-1zM395 131h1v1h-1zM417 131h1v1h-1zM394 132h1v1h-1zM417 132h1v1h-1zM394 133h1v1h-1zM417 133h1v1h-1zM394 134h1v1h-1zM417 134h1v1h-1zM394 135h1v1h-1zM417 135h1v1h-1zM394 136h1v1h-1zM418 136h1v1h-1zM394 137h1v1h-1zM418 137h1v1h-1zM393 138h1v1h-1zM418 138h1v1h-1zM393 139h1v1h-1zM418 139h1v1h-1zM393 140h1v1h-1zM418 140h1v1h-1zM393 141h1v1h-1zM419 141h1v1h-1zM393 142h1v1h-1zM419 142h1v1h-1zM392 143h1v1h-1zM419 143h1v1h-1zM392 144h1v1h-1zM419 144h1v1h-1zM392 145h1v1h-1zM419 145h1v1h-1zM392 146h1v1h-1zM420 146h1v1h-1zM391 147h1v1h-1zM420 147h1v1h-1zM391 148h1v1h-1zM420 148h1v1h-1zM391 149h1v1h-1zM420 149h1v1h-1zM390 150h1v1h-1zM421 150h1v1h-1zM390 151h1v1h-1zM421 151h1v1h-1zM390 152h1v1h-1zM421 152h1v1h-1zM389 153h1v1h-1zM422 153h1v1h-1zM389 154h1v1h-1zM422 154h1v1h-1zM389 155h1v1h-1zM422 155h1v1h-1zM388 156h1v1h-1zM423 156h1v1h-1zM388 157h1v1h-1zM423 157h1v1h-1zM388 158h1v1h-1zM424 158h1v1h-1zM387 159h1v1h-1zM424 159h1v1h-1zM387 160h1v1h-1zM424 160h1v1h-1zM386 161h1v1h-1zM425 161h1v1h-1zM386 162h1v1h-1zM425 162h1v1h-1zM385 163h1v1h-1zM426 163h1v1h-1zM384 164h1v1h-1zM426 164h1v1h-1zM384 165h1v1h-1zM427 165h1v1h-1zM383 166h1v1h-1zM428 166h1v1h-1zM383 167h1v1h-1zM428 167h1v1h-1zM382 168h1v1h-1zM429 168h1v1h-1zM381 169h1v1h-1zM430 169h1v1h-1zM380 170h1v1h-1zM430 170h1v1h-1zM379 171h1v1h-1zM431 171h1v1h-1zM378 172h1v1h-1zM432 172h1v1h-1zM377 173h1v1h-1zM433 173h1v1h-1zM376 174h1v1h-1zM434 174h1v1h-1zM375 175h1v1h-1zM435 175h1v1h-1zM374 176h1v1h-1zM436 176h2v1h-2zM373 177h1v1h-1zM438 177h1v1h-1zM371 178h2v1h-2zM439 178h1v1h-1zM369 179h2v1h-2zM440 179h2v1h-2zM368 180h1v1h-1zM442 180h2v1h-2zM366 181h2v1h-2zM444 181h2v1h-2zM363 182h3v1h-3zM446 182h2v1h-2zM361 183h2v1h-2zM448 183h2v1h-2zM358 184h3v1h-3zM450 184h3v1h-3zM355 185h3v1h-3zM453 185h3v1h-3zM352 186h3v1h-3zM456 186h4v1h-4zM347 187h5v1h-5zM460 187h4v1h-4zM343 188h4v1h-4zM464 188h5v1h-5zM337 189h6v1h-6zM469 189h5v1h-5zM330 190h7v1h-7zM474 190h7v1h-7zM322 191h8v1h-8zM481 191h8v1h-8zM312 192h10v1h-10zM489 192h11v1h-11zM299 193h13v1h-13zM500 193h13v1h-13zM281 194h18v1h-18zM513 194h17v1h-17zM257 195h24v1h-24zM530 195h24v1h-24zM221 196h36v1h-36zM554 196h36v1h-36zM161 197h60v1h-60zM590 197h30v1h-30zM59 198h102v1h-102zM503 254h1v1h-1zM503 255h1v1h-1zM503 256h1v1h-1zM503 257h1v1h-1zM503 258h1v1h-1zM503 259h1v1h-1zM503 260h1v1h-1zM503 261h1v1h-1zM503 262h1v1h-1zM503 263h1v1h-1zM503 264h1v1h-1zM503 265h1v1h-1zM503 266h1v1h-1zM503 267h1v1h-1zM503 268h1v1h-1zM503 269h1v1h-1zM503 270h1v1h-1zM503 271h1v1h-1zM503 272h1v1h-1zM503 273h1v1h-1zM503 274h1v1h-1zM503 275h1v1h-1zM503 276h1v1h-1zM503 277h1v1h-1zM503 278h1v1h-1zM503 279h1v1h-1zM503 280h1v1h-1zM503 281h1v1h-1zM503 282h1v1h-1zM503 283h1v1h-1zM503 284h1v1h-1zM503 285h1v1h-1zM503 286h1v1h-1zM503 287h1v1h-1zM503 288h1v1h-1zM503 289h1v1h-1zM503 290h1v1h-1zM503 291h1v1h-1zM503 292h1v1h-1zM503 293h1v1h-1zM503 294h1v1h-1zM503 295h1v1h-1zM503 296h1v1h-1zM503 297h1v1h-1zM503 298h1v1h-1zM503 299h1v1h-1zM503 300h1v1h-1zM503 301h1v1h-1zM503 302h1v1h-1zM503 303h1v1h-1zM503 304h1v1h-1zM503 305h1v1h-1zM503 306h1v1h-1zM503 307h1v1h-1zM503 308h1v1h-1zM503 309h1v1h-1zM503 310h1v1h-1zM503 311h1v1h-1zM503 312h1v1h-1zM503 313h1v1h-1zM503 314h1v1h-1zM503 315h1v1h-1zM503 316h1v1h-1zM503 317h1v1h-1zM503 318h1v1h-1zM503 319h1v1h-1zM503 320h1v1h-1zM503 321h1v1h-1zM503 322h1v1h-1zM503 323h1v1h-1zM503 324h1v1h-1zM503 325h1v1h-1zM503 326h1v1h-1zM503 327h1v1h-1zM503 328h1v1h-1zM503 329h1v1h-1zM503 330h1v1h-1zM503 331h1v1h-1zM503 332h1v1h-1zM503 333h1v1h-1zM503 334h1v1h-1zM503 335h1v1h-1zM503 336h1v1h-1zM503 337h1v1h-1zM503 338h1v1h-1zM503 339h1v1h-1zM503 340h1v1h-1zM503 341h1v1h-1zM503 342h1v1h-1zM503 343h1v1h-1zM503 344h1v1h-1zM503 345h1v1h-1zM503 346h1v1h-1zM503 347h1v1h-1zM503 348h1v1h-1zM503 349h1v1h-1zM503 350h1v1h-1zM503 351h1v1h-1zM503 352h1v1h-1zM503 353h1v1h-1zM503 354h1v1h-1zM503 355h1v1h-1zM503 356h1v1h-1zM503 357h1v1h-1zM503 358h1v1h-1zM503 359h1v1h-1zM503 360h1v1h-1zM503 361h1v1h-1zM503 362h1v1h-1zM503 363h1v1h-1zM503 364h1v1h-1zM503 365h1v1h-1zM503 366h1v1h-1zM503 367h1v1h-1zM503 368h1v1h-1zM503 369h1v1h-1zM503 370h1v1h-1zM503 371h1v1h-1zM503 372h1v1h-1zM503 373h1v1h-1zM503 374h1v1h-1zM503 375h1v1h-1zM503 376h1v1h-1zM503 377h1v1h-1zM503 378h1v1h-1zM503 379h1v1h-1zM503 380h1v1h-1zM503 381h1v1h-1zM503 382h1v1h-1zM503 383h1v1h-1zM503 384h1v1h-1zM503 385h1v1h-1zM503 386h1v1h-1zM503 387h1v1h-1zM503 388h1v1h-1zM503 389h1v1h-1zM503 390h1v1h-1zM503 391h1v1h-1zM503 392h1v1h-1zM503 393h1v1h-1zM503 394h1v1h-1zM503 395h1v1h-1zM503 396h1v1h-1zM503 397h1v1h-1zM503 398h1v1h-1zM503 399h1v1h-1zM503 400h1v1h-1zM503 401h1v1h-1zM503 402h1v1h-1zM503 403h2v1h-2zM503 404h2v1h-2zM503 405h2v1h-2zM503 406h2v1h-2zM503 407h2v1h-2zM503 408h2v1h-2zM503 409h2v1h-2zM503 410h2v1h-2zM503 411h2v1h-2zM503 412h2v1h-2zM503 413h2v1h-2zM503 414h2v1h-2zM503 415h2v1h-2zM503 416h2v1h-2zM503 417h2v1h-2zM503 418h2v1h-2zM503 419h2v1h-2zM503 420h2v1h-2zM503 421h2v1h-2zM502 422h3v1h-3zM502 423h3v1h-3zM502 424h4v1h-4zM502 425h4v1h-4zM501 426h2v1h-2zM506 426h1v1h-1zM499 427h3v1h-3zM507 427h1v1h-1zM59 428h440v1h-440zM508 428h112v1h-112z"/>
<text x="287.5" y="19" text-anchor="start" class="t">MOA 2004-BLG-36</text>
<text x="51.5" y="205" text-anchor="end" class="t">0</text>
<text x="51.5" y="159" text-anchor="end" class="t">50</text>
<text x="51.5" y="114" text-anchor="end" class="t">100</text>
<text x="51.5" y="68" text-anchor="end" class="t">150</text>
<text x="51.5" y="433" text-anchor="end" class="t">0</text>
<text x="51.5" y="386" text-anchor="end" class="t">50</text>
<text x="51.5" y="338" text-anchor="end" class="t">100</text>
<text x="51.5" y="291" text-anchor="end" class="t">150</text>
<text x="48.5" y="232" text-anchor="start" class="t">3176</text>
<text x="128.5" y="232" text-anchor="start" class="t">3178</text>
<text x="209.5" y="232" text-anchor="start" class="t">3180</text>
<text x="289.5" y="232" text-anchor="start" class="t">3182</text>
<text x="369.5" y="232" text-anchor="start" class="t">3184</text>
<text x="449.5" y="232" text-anchor="start" class="t">3186</text>
<text x="530.5" y="232" text-anchor="start" class="t">3188</text>
<text x="610.5" y="232" text-anchor="start" class="t">3190</text>
<text x="160.5" y="461" text-anchor="start" class="t">2000</text>
<text x="301.5" y="461" text-anchor="start" class="t">2500</text>
<text x="441.5" y="461" text-anchor="start" class="t">3000</text>
<text x="582.5" y="461" text-anchor="start" class="t">3500</text>
<text x="297" y="477" text-anchor="start" class="t">JD - 2450000</text>
<text transform="translate(14,170.5) rotate(-90)" class="t">Amplification</text>
<text transform="translate(14,395.5) rotate(-90)" class="t">Amplification</text>
</svg>
</body></html>
